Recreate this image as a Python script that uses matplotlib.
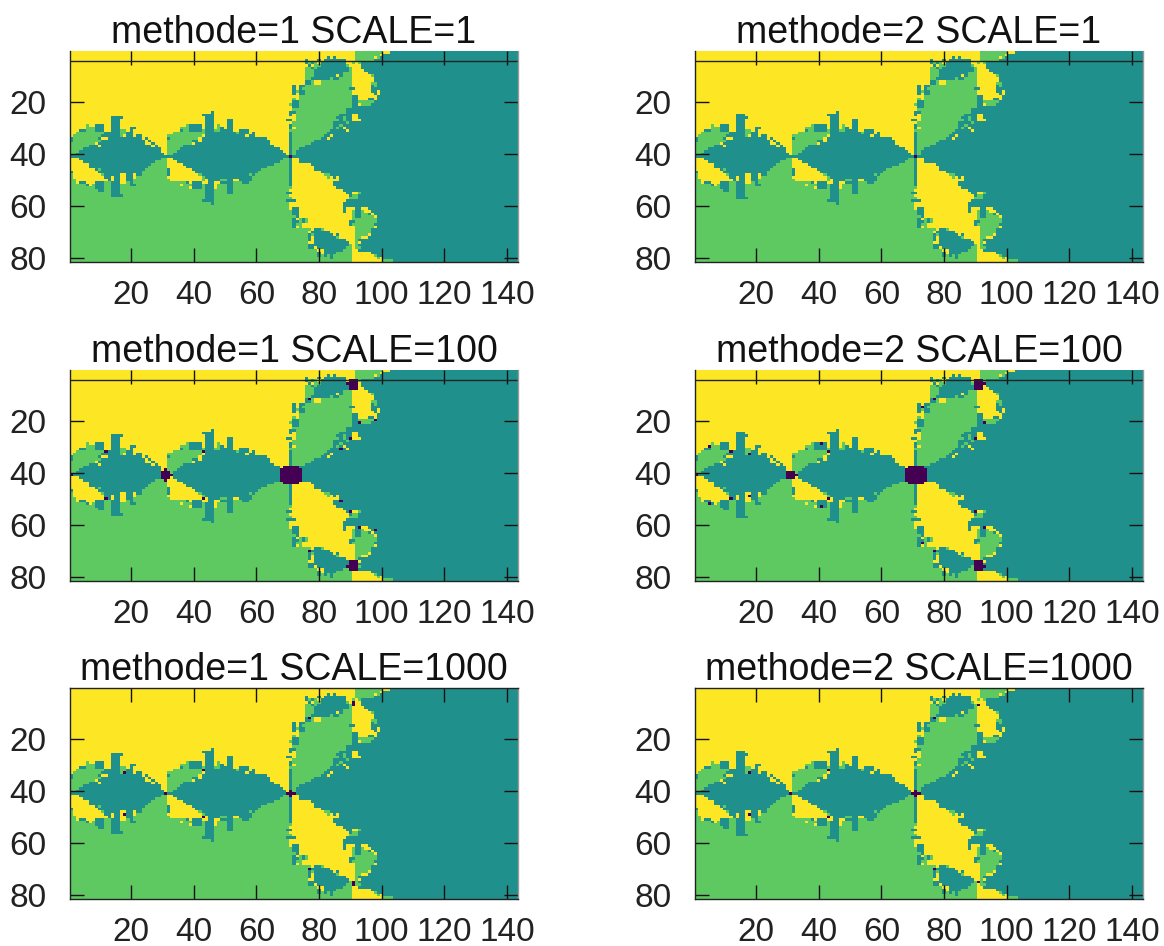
import numpy as np
import matplotlib
matplotlib.use("Agg")
import matplotlib.pyplot as plt

plt.rcParams["font.family"] = ["Liberation Sans", "DejaVu Sans"]

# basin map, one string per row: colour letter + last column of the run
BASIN_ROWS = [
    "Y91 G100 Y102 T143",
    "Y91 G99 Y100 T143",
    "Y82 T83 Y84 T85 Y91 G97 Y98 G99 T143",
    "Y75 T76 Y79 T80 Y81 T88 Y91 G97 T143",
    "Y75 T76 G77 T78 G79 Y80 T88 Y90 G91 Y92 G93 T143",
    "Y76 T77 Y78 G80 T88 G89 Y93 T143",
    "Y75 G77 T78 G79 T89 G90 Y93 T143",
    "Y75 G78 T89 G90 Y94 T143",
    "Y75 G78 T87 G90 Y95 T143",
    "Y75 G78 T85 Y86 T87 G90 Y96 G97 T143",
    "Y75 G77 T83 G84 T86 G90 Y97 T143",
    "Y75 T77 G78 Y80 G90 Y97 T143",
    "Y75 T77 G78 Y80 G90 Y96 G98 T143",
    "Y71 T72 Y73 T75 G90 Y96 T97 G98 T143",
    "Y71 T72 Y73 T74 G89 T91 Y96 T143",
    "Y71 T72 G73 T75 G90 Y96 T98 Y99 T143",
    "Y71 T72 Y73 T75 G90 Y97 T98 Y99 T143",
    "Y73 G90 T92 Y98 T143",
    "Y71 G72 Y73 G90 T92 Y95 T97 Y98 T143",
    "Y71 T73 G90 T92 G97 T143",
    "Y70 G71 T73 G90 T92 Y93 G96 T143",
    "Y71 T73 G90 T143",
    "Y71 G88 T143",
    "Y45 T46 Y70 T72 G88 T143",
    "Y42 T46 Y70 T71 Y72 G86 T90 Y92 T143",
    "Y13 T17 Y43 T46 Y72 G85 T87 G88 T90 Y92 T143",
    "Y13 T16 Y43 T46 Y50 T52 Y69 T71 Y72 G86 T87 G88 T90 Y93 T143",
    "Y13 T16 Y43 T46 Y50 T52 Y71 G84 T88 G89 T143",
    "Y5 G6 Y8 T11 Y13 T16 Y37 G38 T42 Y43 T46 Y47 G48 Y50 T52 Y70 T71 G84 T86 G87 T143",
    "Y5 G8 T11 Y13 T16 Y19 T21 Y35 G38 T42 Y43 T46 Y47 G48 T49 Y50 T52 Y70 T71 Y72 G84 T85 G86 T87 Y88 T143",
    "Y3 T5 G8 T11 Y13 T16 G18 Y19 T20 Y35 T36 G38 T42 G43 T46 G48 T52 Y54 T57 Y70 G83 T88 Y89 T143",
    "Y2 G11 T16 G18 T20 Y33 G43 T53 G54 T57 Y58 T59 Y70 T71 G82 T143",
    "Y1 G10 T16 G17 Y18 T20 Y21 T23 Y31 G42 Y43 T56 Y57 T59 Y70 T71 G81 T83 Y84 T143",
    "T1 G9 T10 Y12 T23 Y24 T25 Y31 T32 G41 Y42 T63 Y70 T71 G80 T82 Y83 T143",
    "T1 G10 T24 Y25 T26 Y31 G39 T41 Y42 T64 Y70 T71 G78 T143",
    "G8 Y9 T24 Y26 T27 Y31 G39 Y40 T64 Y70 T71 G77 T143",
    "G6 T9 Y10 T26 Y27 T28 Y31 G36 T65 Y70 T71 G75 T143",
    "G4 T29 Y31 G35 T67 Y70 T71 G73 T143",
    "G3 T29 Y31 G34 T68 Y70 T71 G72 T143",
    "G2 T30 Y31 G33 T69 Y70 T71 G72 T143",
    "T143",
    "Y3 T29 G31 Y33 T68 G70 T71 Y73 T143",
    "Y4 T27 G31 Y34 T67 G70 T71 Y73 T143",
    "Y6 T26 G31 Y36 T65 G70 T71 Y77 T143",
    "Y6 T25 G31 Y37 T63 G70 T71 Y78 T143",
    "Y8 T9 G10 T24 G31 T32 Y39 T61 G70 T71 Y78 T143",
    "T1 Y9 T23 G31 T32 Y40 T60 G70 T71 Y80 T143",
    "G1 Y10 G11 T16 Y18 T20 Y21 T23 G31 T32 Y41 G42 T57 G58 T59 G70 T71 Y81 G83 T143",
    "G1 Y11 T13 Y14 T16 Y18 T20 Y21 G31 Y42 G43 T58 G70 T71 Y82 G83 Y84 T85 Y86 T143",
    "G2 Y12 T13 Y14 T16 Y18 T20 G32 Y42 G43 Y44 T48 G50 T52 Y54 T58 G70 T71 Y86 T143",
    "G2 Y3 T5 Y8 T11 G13 T16 Y18 G19 T20 G37 T38 Y39 T42 Y44 T46 Y48 T52 G55 T57 G70 T71 Y84 T143",
    "G5 T6 Y7 G8 T11 G13 T16 G19 T21 G35 Y36 G39 T42 G43 T46 Y47 G50 T52 G70 T71 Y84 T143",
    "G8 T11 G13 T16 G38 Y39 T42 G43 T46 Y47 G50 T52 G71 Y85 T143",
    "G9 T11 G13 T16 G43 T46 G50 T52 G70 Y87 T143",
    "G13 T16 G43 T46 G50 T52 G69 T71 Y88 T90 Y92 G93 T143",
    "G13 T17 G43 T46 G70 Y89 T90 G92 T143",
    "G43 T46 G71 Y89 G92 T143",
    "G42 T46 G69 T72 Y88 T143",
    "G45 T46 G70 Y72 Y87 T143",
    "G70 Y71 Y87 T143",
    "G70 Y71 T73 Y87 T88 Y91 T93 Y95 T143",
    "G71 T73 Y87 T88 Y90 G91 T93 G94 Y96 T143",
    "G71 T73 Y90 G91 T93 G95 T96 Y97 T143",
    "G72 T73 Y90 G91 T93 G97 Y98 T143",
    "G71 T72 Y73 G74 T75 G76 Y90 G98 T143",
    "G71 T73 G74 T75 G76 Y89 T91 G98 T143",
    "G71 T72 G74 Y89 T90 G97 T143",
    "G71 T72 Y73 G74 Y91 G97 Y98 T143",
    "G77 Y78 T80 G81 Y91 G96 T143",
    "G76 Y77 T83 Y91 G96 T143",
    "G76 T77 G78 T84 Y85 T86 Y91 G95 Y96 T143",
    "G76 T77 Y78 T85 G86 Y91 G93 Y95 T143",
    "G76 T77 Y78 T88 Y91 G92 T143",
    "G76 Y78 T89 Y91 G92 Y93 T143",
    "G76 T89 G90 Y91 G92 T143",
    "G76 T78 Y79 T88 G90 Y91 G93 T143",
    "G79 Y81 T87 G90 Y92 T143",
    "G79 T80 Y81 T85 G90 Y96 T143",
    "G79 T80 G81 T82 G83 T84 G90 Y97 G98 T143",
    "G83 T84 G90 Y98 G99 Y100 T143",
    "G90 Y100 G103 T143",
]

# rows that differ for methode=2 (row number: runs)
METHODE2_ROWS = {
    25: "Y13 T16 Y42 T46 Y70 T71 Y72 G86 T90 Y92 T143",
    56: "G13 T16 G43 T46 G70 Y89 T90 G92 T143",
    57: "G13 T17 G43 T46 G71 Y89 G92 T143",
}

# dark cells (column, first row, last row) for each panel
DARK_M1_S1 = [(71, 41, 41)]
DARK_M2_S1 = [(71, 41, 41)]
DARK_M1_S100 = [
    (68, 39, 43), (69, 38, 44), (70, 38, 44), (71, 38, 44), (72, 38, 44), (73, 38, 44), (74, 39, 43),
    (30, 40, 42), (31, 39, 43), (32, 40, 42), (33, 41, 41),
    (89, 6, 6), (90, 5, 8), (91, 5, 8), (92, 5, 8),
    (89, 76, 76), (90, 74, 77), (91, 74, 77), (92, 74, 77),
    (12, 32, 32), (12, 50, 50), (43, 32, 32), (43, 50, 50), (77, 12, 12), (93, 21, 21), (98, 20, 20),
    (90, 27, 27), (87, 31, 31), (87, 51, 51), (90, 55, 55), (93, 61, 61), (98, 62, 62), (77, 70, 70), (1, 41, 41),
]
DARK_M2_S100 = [
    (68, 39, 43), (69, 38, 44), (70, 38, 44), (71, 38, 44), (72, 38, 44), (73, 38, 44), (74, 39, 43),
    (30, 40, 42), (31, 40, 42), (32, 40, 42), (33, 41, 41),
    (90, 5, 8), (91, 5, 8), (92, 5, 8), (93, 6, 6),
    (90, 74, 77), (91, 74, 77), (92, 74, 77), (93, 76, 76),
    (5, 30, 30), (5, 52, 52), (12, 32, 32), (12, 50, 50), (18, 33, 33), (18, 49, 49), (41, 29, 29), (41, 53, 53),
    (43, 32, 32), (43, 50, 50), (77, 12, 12), (73, 15, 15), (93, 21, 21), (90, 27, 27), (90, 55, 55),
    (93, 61, 61), (73, 67, 67), (77, 70, 70), (1, 41, 41),
]
DARK_M1_S1000 = [
    (31, 41, 41), (70, 41, 41), (71, 40, 42), (72, 41, 41), (91, 6, 7), (91, 75, 76),
    (18, 33, 33), (18, 49, 49), (43, 32, 32), (43, 50, 50), (77, 12, 12), (77, 70, 70),
]
DARK_M2_S1000 = [
    (31, 41, 41), (70, 41, 41), (71, 40, 42), (72, 41, 41), (91, 7, 7), (91, 75, 75),
    (18, 33, 33), (18, 49, 49), (43, 32, 32), (43, 50, 50), (77, 12, 12), (77, 70, 70),
]

TITLES = [
    "methode=1 SCALE=1", "methode=2 SCALE=1",
    "methode=1 SCALE=100", "methode=2 SCALE=100",
    "methode=1 SCALE=1000", "methode=2 SCALE=1000",
]
DARK_CELLS = [DARK_M1_S1, DARK_M2_S1, DARK_M1_S100, DARK_M2_S100, DARK_M1_S1000, DARK_M2_S1000]
X_TICKS = [20, 40, 60, 80, 100, 120, 140]
Y_TICKS = [20, 40, 60, 80]
LEVELS = {"Y": 4, "G": 3, "T": 2}

W, H = 1164, 946
COL_LEFT = [70, 695]
ROW_TOP = [51, 370, 688]
AX_W, AX_H = 448, 211


def build_grid(rows, overrides=None):
    grid = np.zeros((len(rows), 143))
    for i, row in enumerate(rows):
        if overrides and i + 1 in overrides:
            row = overrides[i + 1]
        start = 0
        for run in row.split():
            end = int(run[1:])
            grid[i, start:end] = LEVELS[run[0]]
            start = end
    return grid


fig = plt.figure(figsize=(W / 100, H / 100), dpi=100)

for k, title in enumerate(TITLES):
    row, col = k // 2, k % 2
    ax = fig.add_axes([COL_LEFT[col] / W, 1 - (ROW_TOP[row] + AX_H) / H, AX_W / W, AX_H / H])
    grid = build_grid(BASIN_ROWS, METHODE2_ROWS if col == 1 else None)
    for c, r0, r1 in DARK_CELLS[k]:
        grid[r0 - 1:r1, c - 1] = 0
    ax.imshow(grid, cmap="viridis", vmin=0, vmax=4, aspect="auto",
              interpolation="nearest", extent=(0.5, 143.5, 81.5, 0.5))
    ax.set_xticks(X_TICKS)
    ax.set_yticks(Y_TICKS)
    ax.tick_params(direction="in", length=10, width=1, labelsize=24, color="#111111",
                   labelcolor="#222222", top=True, right=True, pad=13)
    ax.tick_params(axis="y", pad=17)
    ax.set_title(title, fontsize=27, pad=6, color="#111111")
    for side in ax.spines:
        ax.spines[side].set_linewidth(1)
        ax.spines[side].set_color("#222222")
    ax.spines["right"].set_color("#999999")
    if row < 2:
        # the frame top sits at row 4 here, the image runs on above it
        ax.spines["top"].set_visible(False)
        ax.axhline(4.4, color="#222222", lw=1)

fig.savefig("out.png", dpi=100)
